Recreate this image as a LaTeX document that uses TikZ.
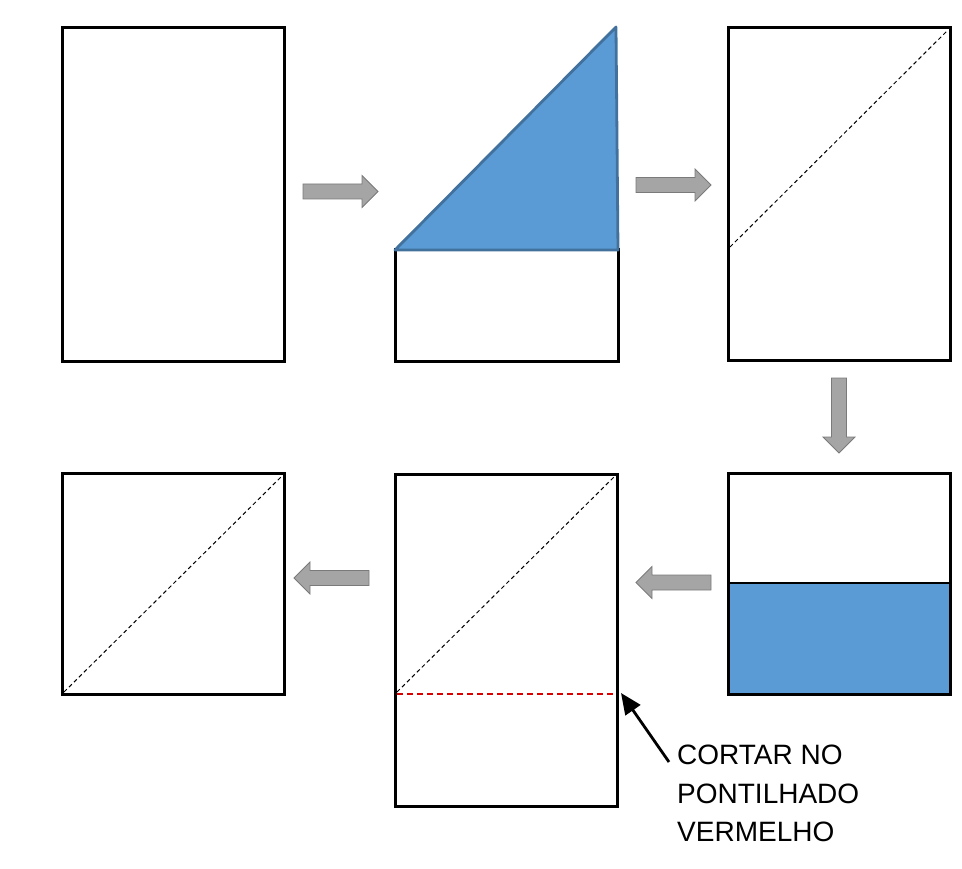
\documentclass[tikz,border=0pt]{standalone}
\usepackage{fontspec}
\setmainfont{Liberation Sans}
\usetikzlibrary{arrows.meta}
\definecolor{fillblue}{HTML}{5B9BD5}
\definecolor{edgeblue}{HTML}{41719C}
\definecolor{arrgray}{HTML}{A5A5A5}
\definecolor{arredge}{HTML}{7A7A7A}
\begin{document}
\begin{tikzpicture}[x=1pt,y=-1pt,
  sheet/.style={draw=black, line width=3pt, inner sep=0pt, outer sep=0pt, anchor=north west},
  fold/.style={draw=black, line width=1pt, dash pattern=on 4pt off 3pt},
  cutline/.style={draw=red!85!black, line width=1.6pt, dash pattern=on 6pt off 4pt},
  bluepart/.style={fill=fillblue},
  pointer/.style={draw=black, line width=2.8pt, -{Triangle[length=21pt,width=18pt]}},
  caption/.style={inner sep=0pt, anchor=north west, align=left, font=\fontsize{28}{38.5}\selectfont},
  blockarrow/.pic={\path[fill=arrgray, draw=arredge, line width=0.8pt]
     (0,-7.5) -- (59,-7.5) -- (59,-16) -- (75,0) -- (59,16) -- (59,7.5) -- (0,7.5) -- cycle;}
]
\useasboundingbox (0,0) rectangle (962,869);

% sheet 1
\node[sheet, minimum width=222pt, minimum height=333pt] (s1) at (62,28) {};

% sheet 2 with folded triangle
\node[sheet, minimum width=223pt, minimum height=111pt] (s2) at (395,250) {};
\coordinate (t1) at (395,250);
\coordinate (t2) at (616,27);
\coordinate (t3) at (618,250);
\path[bluepart, draw=edgeblue, line width=2.8pt, line join=round] (t1) -- (t2) -- (t3) -- cycle;

% sheet 3
\node[sheet, minimum width=222pt, minimum height=332pt] (s3) at (728,28) {};
\draw[fold] (730,247) -- (948,30);

% sheet 4
\path[bluepart] (728,583) rectangle (950,694);
\node[sheet, minimum width=222pt, minimum height=221pt] (s4) at (728,473) {};
\draw[line width=2.8pt] (s4.west |- 0,583) -- (s4.east |- 0,583);

% sheet 5
\node[sheet, minimum width=222pt, minimum height=332pt] (s5) at (395,474) {};
\draw[fold] (397,692) -- (615,476);
\draw[cutline] (397,694) -- (616,694);

% sheet 6
\node[sheet, minimum width=222pt, minimum height=221pt] (s6) at (62,473) {};
\draw[fold] (64,692) -- (282,476);

% block arrows
\pic at (303,191.5) {blockarrow};
\pic at (636,185) {blockarrow};
\pic[rotate=-90] at (839,378) {blockarrow};
\pic[rotate=180] at (711,582.5) {blockarrow};
\pic[rotate=180] at (369,578) {blockarrow};

% caption and pointer
\node[caption] (txt) at (677,745) {CORTAR NO\\PONTILHADO\\VERMELHO};
\coordinate (cut) at (621,693);
\coordinate (tail) at (669,762);
\draw[pointer] (tail) -- (cut);
\end{tikzpicture}
\end{document}
